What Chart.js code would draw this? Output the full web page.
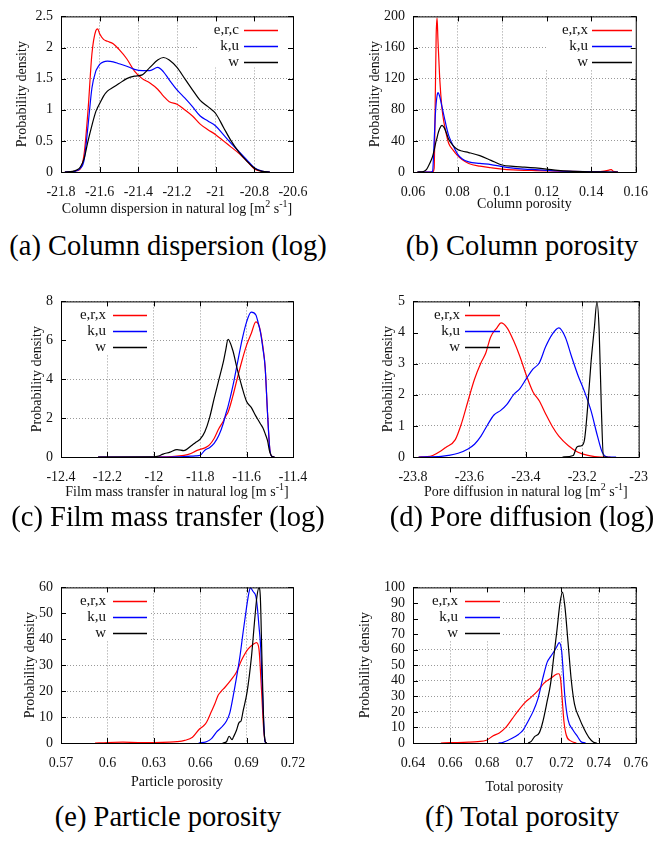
<!DOCTYPE html>
<html>
<head>
<meta charset="utf-8">
<script src="https://cdn.jsdelivr.net/npm/chart.js@4.4.1/dist/chart.umd.min.js"></script>
<style>
  body { margin: 0; background: #fff; }
  #fig { position: relative; width: 660px; height: 841px; overflow: hidden; background: #fff; }
  #fig canvas { position: absolute; }
  .cap { position: absolute; width: 330px; text-align: center; font-family: "Liberation Serif", "DejaVu Serif", serif;
         font-size: 28.5px; line-height: 30px; color: #000; white-space: nowrap; }
</style>
</head>
<body>
<div id="fig">
  <canvas id="pA" width="330" height="222" style="left:0;top:0"></canvas>
  <canvas id="pB" width="330" height="222" style="left:330px;top:0"></canvas>
  <canvas id="pC" width="330" height="222" style="left:0;top:285px"></canvas>
  <canvas id="pD" width="330" height="222" style="left:330px;top:285px"></canvas>
  <canvas id="pE" width="330" height="222" style="left:0;top:571px"></canvas>
  <canvas id="pF" width="330" height="222" style="left:330px;top:571px"></canvas>
  <div class="cap" style="left:3px;top:231px">(a) Column dispersion (log)</div>
  <div class="cap" style="left:357px;top:231px">(b) Column porosity</div>
  <div class="cap" style="left:3px;top:502px">(c) Film mass transfer (log)</div>
  <div class="cap" style="left:357px;top:502px">(d) Pore diffusion (log)</div>
  <div class="cap" style="left:3px;top:802px">(e) Particle porosity</div>
  <div class="cap" style="left:357px;top:802px">(f) Total porosity</div>
</div>
<script>
// (a) column dispersion, natural log
const dispX = [-21.78, -21.74, -21.72, -21.70, -21.68, -21.66, -21.64, -21.62, -21.61, -21.60, -21.58, -21.56, -21.53, -21.50, -21.46, -21.42, -21.38, -21.34, -21.30, -21.27, -21.24, -21.20, -21.16, -21.12, -21.08, -21.04, -21.00, -20.96, -20.92, -20.88, -20.84, -20.80, -20.76, -20.72];
const dispRed = [0, 0.005, 0.02, 0.05, 0.3, 1.0, 1.9, 2.27, 2.3, 2.22, 2.13, 2.1, 2.06, 1.97, 1.82, 1.62, 1.5, 1.43, 1.33, 1.22, 1.13, 1.09, 1.0, 0.9, 0.77, 0.68, 0.6, 0.5, 0.4, 0.3, 0.18, 0.05, 0.01, 0];
const dispBlue = [0, 0.005, 0.02, 0.06, 0.2, 0.75, 1.35, 1.62, 1.68, 1.73, 1.77, 1.78, 1.77, 1.74, 1.7, 1.65, 1.63, 1.63, 1.68, 1.61, 1.48, 1.32, 1.19, 1.05, 0.9, 0.82, 0.74, 0.6, 0.46, 0.33, 0.2, 0.07, 0.015, 0];
const dispBlack = [0, 0.01, 0.03, 0.08, 0.22, 0.5, 0.75, 0.97, 1.04, 1.1, 1.22, 1.3, 1.36, 1.42, 1.5, 1.54, 1.56, 1.68, 1.8, 1.84, 1.8, 1.68, 1.5, 1.32, 1.15, 1.05, 0.94, 0.72, 0.5, 0.32, 0.18, 0.06, 0.01, 0];
const dispXTicks = [-21.8, -21.6, -21.4, -21.2, -21, -20.8, -20.6];
const dispYTicks = [0, 0.5, 1, 1.5, 2, 2.5];

// (b) column porosity
const colX = [0.062, 0.065, 0.066, 0.067, 0.068, 0.0688, 0.0695, 0.07, 0.0704, 0.0708, 0.0712, 0.072, 0.073, 0.074, 0.075, 0.076, 0.078, 0.08, 0.082, 0.085, 0.09, 0.095, 0.1, 0.105, 0.11, 0.115, 0.12, 0.125, 0.13, 0.14, 0.145, 0.148, 0.149, 0.15, 0.152];
const colRed = [0, 0, 0, 0, 0, 0, 5, 95, 175, 198, 170, 120, 82, 62, 48, 37, 28, 21, 16, 11, 7.5, 5.5, 3.8, 2.8, 2.2, 1.8, 1.4, 1, 0.7, 0.4, 0.8, 2.5, 3, 0.8, 0];
const colBlue = [0, 0, 0, 0, 0, 1, 40, 72, 88, 98, 102, 97, 84, 71, 58, 47, 34, 23, 17, 13, 11, 9.5, 7, 5, 3.8, 3, 2.2, 1.3, 0.8, 0.3, 0.1, 0, 0, 0, 0];
const colBlack = [0, 1, 3, 8, 14, 20, 28, 35, 40, 44, 49, 56, 60, 57, 50, 42, 34, 29, 27, 25, 21, 15, 9, 7.2, 6.3, 5.2, 3.8, 2.2, 1.2, 0.3, 0.1, 0, 0, 0, 0];
const colXTicks = [0.06, 0.08, 0.1, 0.12, 0.14, 0.16];
const colYTicks = [0, 40, 80, 120, 160, 200];

// (c) film mass transfer, natural log
const filmX = [-12.24, -12.0, -11.98, -11.96, -11.93, -11.90, -11.87, -11.84, -11.82, -11.80, -11.78, -11.76, -11.74, -11.72, -11.70, -11.69, -11.68, -11.66, -11.64, -11.62, -11.60, -11.58, -11.56, -11.55, -11.54, -11.53, -11.52, -11.51, -11.50, -11.49, -11.48];
const filmRed = [0, 0, 0.01, 0.01, 0.02, 0.05, 0.08, 0.18, 0.3, 0.39, 0.47, 0.62, 0.95, 1.45, 1.85, 2.1, 2.3, 3.1, 4.05, 4.95, 5.75, 6.35, 6.95, 6.85, 6.45, 5.7, 4.6, 2.3, 0.4, 0.03, 0];
const filmBlue = [0, 0, 0, 0, 0, 0.01, 0.02, 0.04, 0.06, 0.09, 0.35, 0.48, 0.7, 1.1, 1.75, 2.2, 2.6, 3.6, 4.8, 6.0, 6.95, 7.45, 7.3, 6.9, 6.4, 5.6, 4.6, 2.3, 0.4, 0.03, 0];
const filmBlack = [0, 0.01, 0.05, 0.15, 0.25, 0.38, 0.33, 0.57, 0.75, 0.92, 1.3, 2.0, 3.0, 3.95, 4.9, 5.5, 6.05, 5.5, 4.5, 3.6, 2.85, 2.55, 2.1, 1.9, 1.7, 1.5, 1.2, 0.85, 0.25, 0.02, 0];
const filmXTicks = [-12.4, -12.2, -12, -11.8, -11.6, -11.4];
const filmYTicks = [0, 2, 4, 6, 8];

// (d) pore diffusion, natural log
const poreRedX = [-23.78, -23.75, -23.73, -23.70, -23.685, -23.65, -23.628, -23.605, -23.582, -23.559, -23.542, -23.525, -23.502, -23.488, -23.467, -23.444, -23.421, -23.398, -23.375, -23.352, -23.33, -23.306, -23.283, -23.249, -23.215, -23.18, -23.134, -23.10];
const poreRedY = [0, 0.01, 0.05, 0.2, 0.3, 0.56, 1.08, 1.8, 2.5, 3.03, 3.34, 3.85, 4.16, 4.31, 4.16, 3.75, 3.23, 2.62, 2.1, 1.8, 1.39, 0.98, 0.67, 0.36, 0.15, 0.05, 0, 0];
const poreBlueX = [-23.78, -23.70, -23.674, -23.64, -23.605, -23.582, -23.559, -23.536, -23.513, -23.49, -23.467, -23.444, -23.421, -23.398, -23.375, -23.352, -23.33, -23.306, -23.283, -23.26, -23.238, -23.215, -23.192, -23.169, -23.146, -23.129, -23.111, -23.08];
const poreBlueY = [0, 0.02, 0.05, 0.12, 0.26, 0.41, 0.67, 1.03, 1.35, 1.49, 1.69, 2.0, 2.2, 2.52, 2.82, 3.03, 3.54, 3.95, 4.15, 3.85, 3.23, 2.62, 2.1, 1.49, 0.67, 0.15, 0, 0];
const poreBlackX = [-23.27, -23.232, -23.22, -23.21, -23.203, -23.192, -23.18, -23.169, -23.157, -23.148, -23.14, -23.132, -23.125, -23.11];
const poreBlackY = [0, 0.05, 0.31, 0.35, 0.36, 0.56, 1.7, 3.03, 4.16, 4.98, 4.05, 1.49, 0, 0];
const poreXTicks = [-23.8, -23.6, -23.4, -23.2, -23];
const poreYTicks = [0, 1, 2, 3, 4, 5];

// (e) particle porosity
const partRedX = [0.592, 0.6, 0.61, 0.62, 0.63, 0.64, 0.645, 0.65, 0.655, 0.6597, 0.662, 0.6641, 0.6673, 0.6694, 0.6716, 0.6737, 0.6759, 0.6802, 0.6834, 0.6867, 0.6909, 0.6942, 0.6964, 0.698, 0.6996, 0.7011, 0.7021, 0.703];
const partRedY = [0, 0.2, 0.3, 0.2, 0.2, 0.3, 0.5, 1.0, 2.2, 5.5, 6.5, 8, 12.2, 15, 18.4, 20, 21.4, 24.5, 27.3, 31.9, 36.2, 38, 38.7, 36.2, 20.8, 4.8, 0.5, 0];
const partBlueX = [0.659, 0.664, 0.6673, 0.6705, 0.6737, 0.677, 0.6791, 0.6813, 0.6834, 0.6856, 0.6878, 0.6899, 0.6915, 0.6925, 0.6942, 0.696, 0.697, 0.698, 0.6991, 0.7006, 0.7019, 0.703];
const partBlueY = [0, 0.5, 1.7, 4.2, 6, 8.5, 11.5, 18, 25, 33, 43, 52, 58, 59.8, 58.4, 56.5, 52, 45, 37, 14.8, 0.5, 0];
const partBlackX = [0.6745, 0.677, 0.6787, 0.6806, 0.6815, 0.6834, 0.6851, 0.6864, 0.6877, 0.6903, 0.6931, 0.6953, 0.6967, 0.698, 0.6989, 0.6999, 0.701, 0.7021, 0.703];
const partBlackY = [0, 0.5, 2.6, 1.3, 2.3, 4.8, 7.9, 8.5, 12.2, 19.6, 33, 48, 56.6, 59.8, 56, 33, 8.5, 0.5, 0];
const partXTicks = [0.57, 0.6, 0.63, 0.66, 0.69, 0.72];
const partYTicks = [0, 10, 20, 30, 40, 50, 60];

// (f) total porosity
const totRedX = [0.655, 0.66, 0.67, 0.675, 0.6796, 0.683, 0.6865, 0.69, 0.6934, 0.6968, 0.7003, 0.7037, 0.7072, 0.7106, 0.7141, 0.7175, 0.7185, 0.7195, 0.7204, 0.7213, 0.7226, 0.7252, 0.728];
const totRedY = [0, 0.2, 0.5, 0.9, 1.8, 4.5, 6.5, 10, 15.5, 21, 26, 29.5, 33.5, 38.5, 41.5, 44.3, 44.5, 41, 28, 14, 5, 1.2, 0];
const totBlueX = [0.686, 0.6882, 0.6934, 0.6968, 0.6994, 0.702, 0.7046, 0.7072, 0.7098, 0.7123, 0.7141, 0.7158, 0.7175, 0.7187, 0.7201, 0.7209, 0.7218, 0.7235, 0.7261, 0.7287, 0.7304, 0.733];
const totBlueY = [0, 0.3, 3, 5.5, 8.5, 14, 20, 28, 41, 52, 55.5, 58.5, 62, 64.5, 59, 46, 30, 15, 8.5, 4, 1, 0];
const totBlackX = [0.702, 0.7037, 0.7054, 0.708, 0.7098, 0.7123, 0.7141, 0.7158, 0.7175, 0.7192, 0.7205, 0.7218, 0.7235, 0.7253, 0.727, 0.7296, 0.7322, 0.7348, 0.7373, 0.739];
const totBlackY = [0, 1, 4, 6.5, 13, 27, 38, 55, 72, 90, 97, 88, 65, 40, 25, 16, 9, 3.5, 0.5, 0];
const totXTicks = [0.64, 0.66, 0.68, 0.7, 0.72, 0.74, 0.76];
const totYTicks = [0, 10, 20, 30, 40, 50, 60, 70, 80, 90, 100];

const RED = '#ff0000', BLUE = '#0000ff', BLACK = '#000000';
const SERIF = '"Liberation Serif", "Times New Roman", serif';
const TEXT = '#111111';
const CANVAS_H = 222, PLOT_TOP = 10, PLOT_BOTTOM = 172;

// draws a string made of normal and superscript parts, centred on cx
function drawRich(ctx, parts, cx, baseY) {
  const fontOf = sup => (sup ? '10px ' : '14px ') + SERIF;
  let total = 0;
  parts.forEach(([t, sup]) => { ctx.font = fontOf(sup); total += ctx.measureText(t).width; });
  let x = cx - total / 2;
  ctx.textAlign = 'left';
  ctx.textBaseline = 'alphabetic';
  parts.forEach(([t, sup]) => {
    ctx.font = fontOf(sup);
    ctx.fillText(t, x, sup ? baseY - 6 : baseY);
    x += ctx.measureText(t).width;
  });
}

// gnuplot look: key box, frame, inward ticks, axis titles
const gnuFrame = {
  id: 'gnuFrame',
  beforeDatasetsDraw(chart, args, o) {
    const { ctx, chartArea: a } = chart;
    ctx.save();
    ctx.fillStyle = '#ffffff';
    ctx.fillRect(o.box[0], a.top + 1, o.box[1] - o.box[0], o.box[2]);
    ctx.restore();
  },
  afterDatasetsDraw(chart, args, o) {
    const { ctx, chartArea: a, scales: { x, y } } = chart;
    ctx.save();

    // frame and ticks
    ctx.strokeStyle = '#000000';
    ctx.lineWidth = 1;
    ctx.strokeRect(a.left + 0.5, a.top + 0.5, a.right - a.left, a.bottom - a.top);
    ctx.beginPath();
    x.ticks.forEach(t => {
      const px = Math.round(x.getPixelForValue(t.value)) + 0.5;
      ctx.moveTo(px, a.bottom); ctx.lineTo(px, a.bottom - 5);
      ctx.moveTo(px, a.top); ctx.lineTo(px, a.top + 5);
    });
    y.ticks.forEach(t => {
      const py = Math.round(y.getPixelForValue(t.value)) + 0.5;
      ctx.moveTo(a.left, py); ctx.lineTo(a.left + 5, py);
      ctx.moveTo(a.right, py); ctx.lineTo(a.right - 5, py);
    });
    ctx.stroke();

    // key: label right-aligned, sample line to its right
    ctx.font = '15px ' + SERIF;
    ctx.textAlign = 'right';
    ctx.textBaseline = 'middle';
    o.labels.forEach((lab, i) => {
      const yy = Math.round(a.top + o.rows[i]) + 0.5;
      ctx.fillStyle = TEXT;
      ctx.fillText(lab, o.textRight, yy);
      ctx.beginPath();
      ctx.strokeStyle = o.colors[i];
      ctx.lineWidth = 1.3;
      ctx.moveTo(o.line[0], yy);
      ctx.lineTo(o.line[1], yy);
      ctx.stroke();
    });

    // axis titles
    ctx.fillStyle = TEXT;
    drawRich(ctx, o.xTitle, (a.left + a.right) / 2, a.bottom + o.xTitleDy);
    ctx.translate(o.yTitleX, (a.top + a.bottom) / 2);
    ctx.rotate(-Math.PI / 2);
    ctx.font = '14px ' + SERIF;
    ctx.textAlign = 'center';
    ctx.textBaseline = 'middle';
    ctx.fillText('Probability density', 0, 0);
    ctx.restore();
  }
};

function axis(min, max, tickList, fit, pad) {
  return {
    type: 'linear',
    min: min,
    max: max,
    afterBuildTicks: s => { s.ticks = tickList.map(v => ({ value: v })); },
    afterFit: fit,
    grid: { color: '#999999', lineWidth: 1, drawTicks: false },
    border: { display: false, dash: [1, 2] },
    ticks: {
      padding: pad,
      color: TEXT,
      font: { family: SERIF, size: 14 },
      maxRotation: 0,
      autoSkip: false,
      callback: v => String(v)
    }
  };
}

function makePanel(id, p) {
  const plotLeft = p.right ? 83 : 61;
  const plotRight = p.right ? 316 : 293;
  p.frame.labels = p.series.map(s => s.label);
  p.frame.colors = p.series.map(s => s.color);
  new Chart(document.getElementById(id), {
    type: 'scatter',
    data: {
      datasets: p.series.map((s, i) => ({
        label: s.label,
        data: s.x.map((v, j) => ({ x: v, y: s.y[j] })),
        showLine: true,
        borderColor: s.color,
        borderWidth: 1.2,
        pointRadius: 0,
        cubicInterpolationMode: 'monotone',
        fill: false,
        order: 2 - i
      }))
    },
    options: {
      responsive: false,
      animation: false,
      events: [],
      layout: { autoPadding: false, padding: { left: 0, top: PLOT_TOP, right: 330 - plotRight, bottom: 0 } },
      plugins: {
        legend: { display: false },
        tooltip: { enabled: false },
        gnuFrame: p.frame
      },
      scales: {
        x: axis(p.xr[0], p.xr[1], p.xTicks, s => { s.height = CANVAS_H - PLOT_BOTTOM; }, 12),
        y: axis(p.yr[0], p.yr[1], p.yTicks, s => { s.width = plotLeft; }, 8)
      }
    },
    plugins: [gnuFrame]
  });
}

const ROWS = [14, 30, 46];

makePanel('pA', {
  xr: [-21.8, -20.6], yr: [0, 2.5], xTicks: dispXTicks, yTicks: dispYTicks,
  series: [
    { label: 'e,r,c', color: RED, x: dispX, y: dispRed },
    { label: 'k,u', color: BLUE, x: dispX, y: dispBlue },
    { label: 'w', color: BLACK, x: dispX, y: dispBlack }
  ],
  frame: { rows: ROWS, textRight: 239, line: [244, 278], box: [199, 293, 50],
           xTitle: [['Column dispersion in natural log [m', 0], ['2', 1], [' s', 0], ['-1', 1], [']', 0]],
           xTitleDy: 41, yTitleX: 22 }
});

makePanel('pB', {
  right: true, xr: [0.06, 0.16], yr: [0, 200], xTicks: colXTicks, yTicks: colYTicks,
  series: [
    { label: 'e,r,x', color: RED, x: colX, y: colRed },
    { label: 'k,u', color: BLUE, x: colX, y: colBlue },
    { label: 'w', color: BLACK, x: colX, y: colBlack }
  ],
  frame: { rows: ROWS, textRight: 258, line: [262, 302], box: [216, 316, 52],
           xTitle: [['Column porosity', 0]], xTitleDy: 36, yTitleX: 45 }
});

makePanel('pC', {
  xr: [-12.4, -11.4], yr: [0, 8], xTicks: filmXTicks, yTicks: filmYTicks,
  series: [
    { label: 'e,r,x', color: RED, x: filmX, y: filmRed },
    { label: 'k,u', color: BLUE, x: filmX, y: filmBlue },
    { label: 'w', color: BLACK, x: filmX, y: filmBlack }
  ],
  frame: { rows: ROWS, textRight: 106, line: [113, 147], box: [61, 150, 52],
           xTitle: [['Film mass transfer in natural log [m s', 0], ['-1', 1], [']', 0]],
           xTitleDy: 39, yTitleX: 37 }
});

makePanel('pD', {
  right: true, xr: [-23.8, -23], yr: [0, 5], xTicks: poreXTicks, yTicks: poreYTicks,
  series: [
    { label: 'e,r,x', color: RED, x: poreRedX, y: poreRedY },
    { label: 'k,u', color: BLUE, x: poreBlueX, y: poreBlueY },
    { label: 'w', color: BLACK, x: poreBlackX, y: poreBlackY }
  ],
  frame: { rows: ROWS, textRight: 130, line: [135, 170], box: [83, 172, 52],
           xTitle: [['Pore diffusion in natural log [m', 0], ['2', 1], [' s', 0], ['-1', 1], [']', 0]],
           xTitleDy: 39, yTitleX: 58 }
});

makePanel('pE', {
  xr: [0.57, 0.72], yr: [0, 60], xTicks: partXTicks, yTicks: partYTicks,
  series: [
    { label: 'e,r,x', color: RED, x: partRedX, y: partRedY },
    { label: 'k,u', color: BLUE, x: partBlueX, y: partBlueY },
    { label: 'w', color: BLACK, x: partBlackX, y: partBlackY }
  ],
  frame: { rows: ROWS, textRight: 106, line: [113, 147], box: [61, 150, 52],
           xTitle: [['Particle porosity', 0]], xTitleDy: 43, yTitleX: 30 }
});

makePanel('pF', {
  right: true, xr: [0.64, 0.76], yr: [0, 100], xTicks: totXTicks, yTicks: totYTicks,
  series: [
    { label: 'e,r,x', color: RED, x: totRedX, y: totRedY },
    { label: 'k,u', color: BLUE, x: totBlueX, y: totBlueY },
    { label: 'w', color: BLACK, x: totBlackX, y: totBlackY }
  ],
  frame: { rows: ROWS, textRight: 128, line: [135, 170], box: [83, 172, 52],
           xTitle: [['Total porosity', 0]], xTitleDy: 48, yTitleX: 35 }
});
</script>
</body>
</html>
